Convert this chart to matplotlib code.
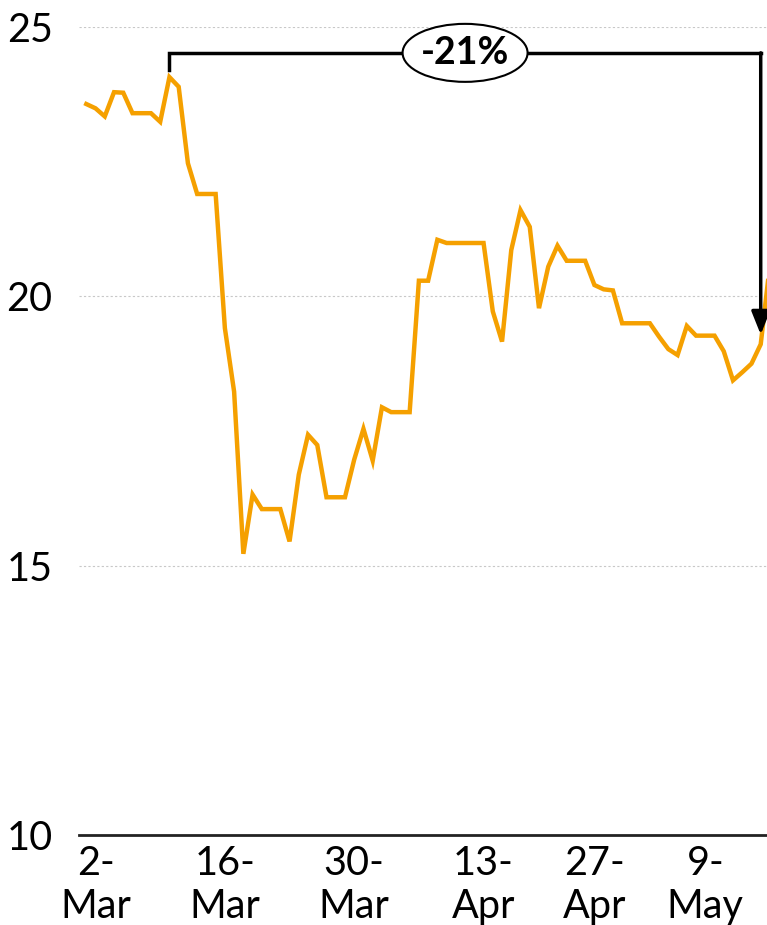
import matplotlib
matplotlib.use("Agg")
import matplotlib.pyplot as plt
from matplotlib.patches import Ellipse
import numpy as np

plt.rcParams['font.family'] = ['Lato', 'DejaVu Sans']

# Daily series (index positions)
values = [23.57, 23.49, 23.34, 23.79, 23.78, 23.40, 23.40, 23.40, 23.24, 24.07,
          23.89, 22.47, 21.90, 21.90, 21.90, 19.41, 18.23, 15.22, 16.32, 16.05,
          16.05, 16.05, 15.45, 16.69, 17.43, 17.24, 16.27, 16.27, 16.27, 16.97,
          17.54, 16.95, 17.94, 17.85, 17.85, 17.85, 20.29, 20.29, 21.05, 20.99,
          20.99, 20.99, 20.99, 20.99, 19.72, 19.16, 20.86, 21.60, 21.29, 19.78,
          20.55, 20.94, 20.66, 20.66, 20.66, 20.21, 20.13, 20.11, 19.50, 19.50,
          19.50, 19.50, 19.25, 19.02, 18.91, 19.45, 19.27, 19.27, 19.27, 18.98,
          18.44, 18.59, 18.75, 19.11, 20.60]
tick_idx = [1, 15, 29, 43, 55, 67]
tick_labels = ["2-\nMar", "16-\nMar", "30-\nMar", "13-\nApr", "27-\nApr", "9-\nMay"]
y_ticks = [10, 15, 20, 25]
change_label = "-21%"
end_idx = 73

x = np.arange(len(values))
vals = np.array(values)

fig = plt.figure(figsize=(7.67, 9.25), dpi=100)
ax = fig.add_axes([79/767, 90/925, 1 - 79/767, 808/925])

ax.plot(x, vals, color='#F5A000', lw=3.2, solid_joinstyle='miter', zorder=3)

ax.set_xlim(-0.79, 73.68)
ax.set_ylim(10, 25)

# grid
for yv in y_ticks[1:]:
    ax.axhline(yv, color='#c8c8c8', lw=0.8, ls=(0, (2, 2)), zorder=1)

for s in ['left', 'right', 'top']:
    ax.spines[s].set_visible(False)
ax.spines['bottom'].set_linewidth(2.0)
ax.spines['bottom'].set_color('#222222')

ax.set_yticks(y_ticks)
ax.set_yticklabels([str(v) for v in y_ticks])
ax.set_xticks(tick_idx)
ax.set_xticklabels(tick_labels)
ax.tick_params(axis='both', length=0, labelsize=28.5, colors='black')
ax.tick_params(axis='y', pad=19)
ax.tick_params(axis='x', pad=7)

# bracket annotation
peak_idx = int(np.argmax(vals[:end_idx + 1]))
peak = vals[peak_idx]
bracket_y = peak + 0.45
ax.plot([peak_idx, peak_idx, end_idx], [peak + 0.13, bracket_y, bracket_y],
        color='black', lw=2.5, solid_joinstyle='miter', zorder=4, clip_on=False)
ax.annotate('', xy=(end_idx, vals[end_idx] + 0.18), xytext=(end_idx, bracket_y),
            arrowprops=dict(arrowstyle='-|>,head_length=0.5,head_width=0.2',
                            mutation_scale=28, lw=2.5, color='black',
                            shrinkA=0, shrinkB=0),
            zorder=4)
mid_x = (peak_idx + end_idx) / 2
cx, cy = ax.transLimits.transform((mid_x, bracket_y))
ax.add_patch(Ellipse((cx, cy), 125 / 688, 58 / 808, transform=ax.transAxes,
                     fc='white', ec='black', lw=1.5, zorder=5, clip_on=False))
ax.text(mid_x, bracket_y, change_label, fontsize=27,
        fontweight='bold', ha='center', va='center', zorder=6)

fig.savefig('out.png', dpi=100)
